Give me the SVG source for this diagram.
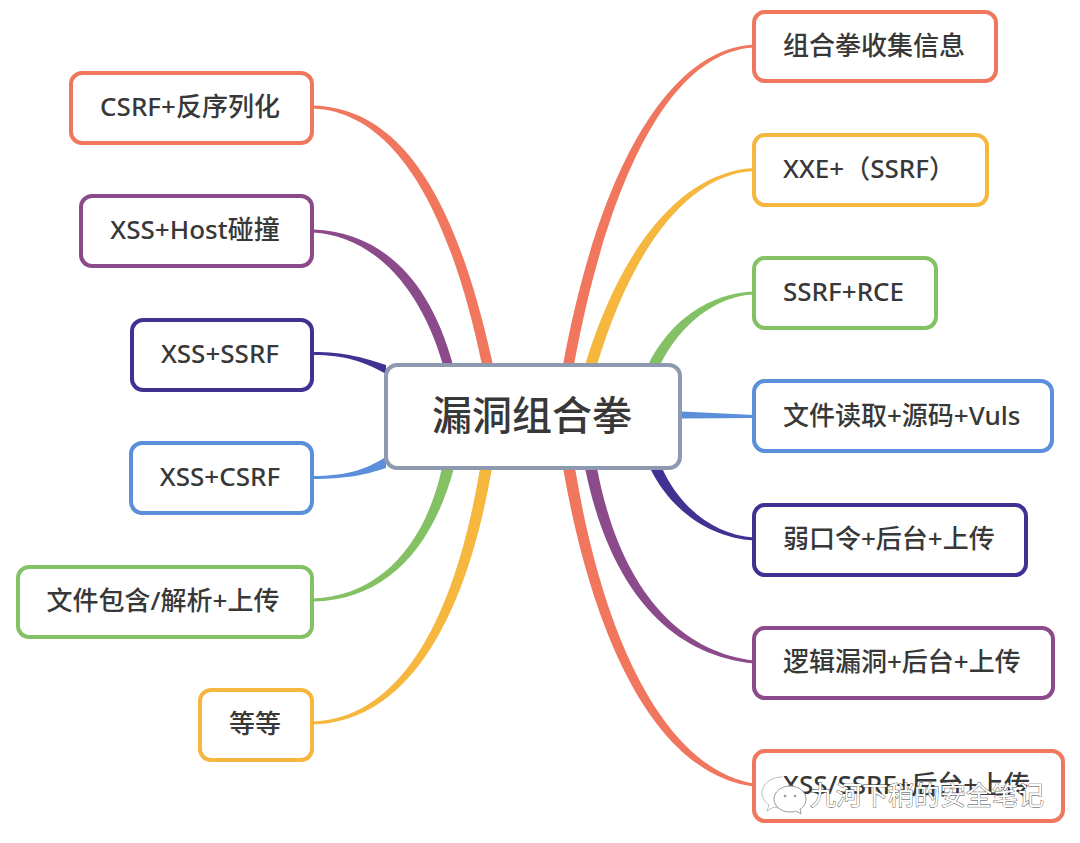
<svg xmlns="http://www.w3.org/2000/svg" width="1080" height="843" viewBox="0 0 1080 843">
<style>
.n{fill:#fff;stroke-width:4}
.t{font-family:"Noto Sans","Noto Sans CJK SC",sans-serif;font-size:26px;font-weight:500;fill:#383838;text-anchor:middle}
.s{text-anchor:start}
.r{stroke:#F1765E}.o{stroke:#F6B73F}.g{stroke:#84C165}.b{stroke:#5B8FD9}.d{stroke:#3F3292}.p{stroke:#8B4A8A}
.wm{font-family:"Noto Sans CJK SC",sans-serif;font-size:26px;fill:#fff;stroke:#444;stroke-width:.8;paint-order:stroke}
</style>
<rect width="1080" height="843" fill="#fff"/>
<g id="connectors">
<path fill="#F1765E" d="M313,108.5C395,112 450,210 482,365L493,365C458,205 405,108 313,105.5Z"/>
<path fill="#8B4A8A" d="M313,232.5C372,236 420,285 443,365L453,365C430,280 382,232 313,229.5Z"/>
<path fill="#3F3292" d="M313,352C345,352 365,358 386,365L386,374C365,362 345,355 313,355Z"/>
<path fill="#5B8FD9" d="M313,476C345,476 365,470 386,457L386,468C365,475 345,479 313,479Z"/>
<path fill="#84C165" d="M313,598.5C380,596 425,545 442,468L454,468C432,550 385,600 313,601.5Z"/>
<path fill="#F6B73F" d="M313,721.5C400,718 455,620 480,468L492,468C465,625 405,722 313,724.5Z"/>
<path fill="#F1765E" d="M754,44.5C660,50 595,190 563,365L574,365C605,195 665,52 754,47.5Z"/>
<path fill="#F6B73F" d="M754,168C680,172 620,250 585,365L597,365C630,255 685,174 754,171Z"/>
<path fill="#84C165" d="M754,291.5C710,293 670,320 648,365L660,365C680,325 715,296 754,294.5Z"/>
<path fill="#5B8FD9" d="M682,411.5L754,415L754,418L682,418.5Z"/>
<path fill="#3F3292" d="M650,468C670,510 710,538 754,540.5L754,537.5C715,535 680,508 662,468Z"/>
<path fill="#8B4A8A" d="M585,468C610,590 670,655 754,663.5L754,660.5C680,652 620,590 597,468Z"/>
<path fill="#F1765E" d="M563,468C595,650 660,775 754,786.5L754,783.5C670,770 605,650 575,468Z"/>
</g>
<g id="center"><rect x="386" y="365" width="294" height="103" rx="11" fill="#fff" stroke="#8D99AE" stroke-width="4"/><text x="532" y="430" font-family="'Noto Sans CJK SC',sans-serif" font-size="40" font-weight="500" fill="#383838" text-anchor="middle">漏洞组合拳</text></g>
<g id="n1"><rect class="n r" x="71" y="73" width="241" height="70" rx="11"/><text class="t" x="190" y="116">CSRF+反序列化</text></g>
<g id="n2"><rect class="n p" x="81" y="196" width="231" height="70" rx="11"/><text class="t" x="195" y="239">XSS+Host碰撞</text></g>
<g id="n3"><rect class="n d" x="132" y="320" width="180" height="70" rx="11"/><text class="t" x="220" y="363">XSS+SSRF</text></g>
<g id="n4"><rect class="n b" x="131" y="443" width="181" height="70" rx="11"/><text class="t" x="220" y="486">XSS+CSRF</text></g>
<g id="n5"><rect class="n g" x="18" y="567" width="294" height="70" rx="11"/><text class="t" x="163" y="610">文件包含/解析+上传</text></g>
<g id="n6"><rect class="n o" x="200" y="690" width="112" height="70" rx="11"/><text class="t" x="255" y="733">等等</text></g>
<g id="n7"><rect class="n r" x="754" y="12" width="242" height="69" rx="11"/><text class="t s" x="783" y="55">组合拳收集信息</text></g>
<g id="n8"><rect class="n o" x="754" y="135" width="233" height="70" rx="11"/><text class="t s" x="783" y="178">XXE+（SSRF）</text></g>
<g id="n9"><rect class="n g" x="754" y="258" width="182" height="70" rx="11"/><text class="t s" x="783" y="301">SSRF+RCE</text></g>
<g id="n10"><rect class="n b" x="754" y="381" width="298" height="70" rx="11"/><text class="t s" x="783" y="425">文件读取+源码+Vuls</text></g>
<g id="n11"><rect class="n d" x="754" y="505" width="272" height="70" rx="11"/><text class="t s" x="783" y="548">弱口令+后台+上传</text></g>
<g id="n12"><rect class="n p" x="754" y="628" width="299" height="70" rx="11"/><text class="t s" x="783" y="671">逻辑漏洞+后台+上传</text></g>
<g id="n13"><rect class="n r" x="754" y="751" width="309" height="70" rx="11"/><text class="t s" x="783" y="794">XSS/SSRF+后台+上传</text></g>
<g id="watermark">
<path d="M782,777c-11,0-20,7-20,16c0,5 3,9 7,12l-2,6 7-4c3,1 5,1 8,1" fill="#fff" stroke="#bbb" stroke-width="1"/>
<path d="M790,786c-9,0-16,6-16,13s7,13 16,13c2,0 4,0 6,-1l5,3-1-5c4-2 6-6 6-10c0-7-7-13-16-13z" fill="#fff" stroke="#999" stroke-width="1"/>
<g fill="#999"><circle cx="785" cy="796" r="1.3"/><circle cx="795" cy="796" r="1.3"/></g>
<text class="wm" x="810" y="805">九河下稍的安全笔记</text>
</g>
</svg>
